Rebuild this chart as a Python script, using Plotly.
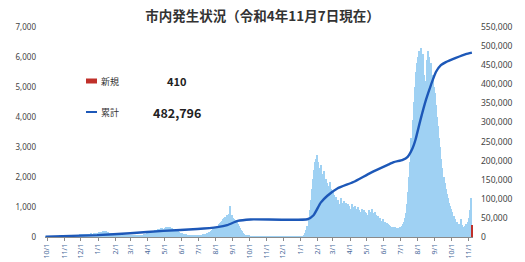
import pandas as pd
import plotly.graph_objects as go

# ---------------- data ----------------
title_text = "市内発生状況（令和4年11月7日現在）"

# daily new cases, aggregated per 2-day bin starting 2020-09-28
new_cases_2day = [
    15, 20, 18, 25, 20, 22, 30, 25, 28, 20, 25, 30, 28, 35, 30, 32,
    35, 40, 38, 45, 50, 48, 55, 60, 58, 65, 70, 68, 75, 80, 78, 85,
    90, 85, 95, 100, 92, 105, 110, 100, 115, 120, 110, 125, 130, 120, 140, 150,
    160, 180, 170, 200, 190, 210, 195, 180, 170, 150, 140, 120, 110, 95, 85,
    80, 70, 65, 60, 55, 50, 45, 48, 42, 40, 45, 38, 42, 40,
    45, 42, 50, 48, 55, 52, 60, 65, 70, 75, 80, 90, 100, 110, 120,
    130, 150, 160, 180, 190, 210, 220, 240, 250, 260, 280, 270, 290, 300, 280, 310,
    320, 330, 310, 340, 320, 300, 290, 270, 250, 230, 210, 190, 170, 150, 140,
    120, 110, 100, 90, 80, 70, 65, 60, 55, 50, 48, 45, 50, 55, 60,
    65, 70, 75, 80, 90, 100, 110, 120, 140, 160, 180, 200, 230, 260, 290,
    320, 350, 380, 420, 460, 500, 540, 600, 640, 680, 720, 650, 760, 1050, 700, 720,
    650, 600, 560, 500, 430, 360, 300, 240, 190, 150, 110, 80, 60, 45, 35,
    28, 22, 18, 15, 12, 10, 9, 8, 7, 6, 6, 5, 5, 4, 4, 3,
    3, 3, 2, 2, 2, 3, 2, 2, 3, 2, 2, 2, 3, 2, 2,
    2, 2, 3, 2, 2, 3, 3, 2, 3, 3, 4, 4, 5, 5, 6,
    8, 15, 30, 60, 120, 220, 380, 600, 900, 1250, 1600, 1950, 2250, 2500, 2600, 2750,
    2500, 2300, 2400, 2100, 2000, 2200, 1900, 1950, 1800, 1700, 1850, 1600, 1500, 1550,
    1400, 1300, 1350, 1200, 1250, 1100, 1300, 1150, 1100, 1200, 1050, 1150, 1000, 1100, 1050,
    950, 1100, 1000, 900, 1050, 950, 850, 1000, 900, 850, 950, 800, 900, 850, 800,
    750, 650, 900, 850, 950, 800, 700, 850, 750, 650, 700, 600, 650, 550, 600, 500,
    500, 450, 480, 420, 400, 380, 350, 330, 300, 320, 280, 300, 260, 300, 320,
    380, 420, 500, 650, 800, 1100, 1500, 2000, 2500, 3300, 3900, 4500, 5000, 5500, 5800,
    6000, 6200, 5800, 6300, 6100, 5400, 4800, 5200, 5900, 6200, 6000, 5600, 5800, 5400, 5000, 4800,
    4400, 4000, 3700, 3300, 3000, 2600, 2300, 2000, 1800, 1600, 1450, 1300, 1150, 1050, 950,
    850, 700, 600, 450, 500, 380, 420, 350, 600, 400, 330, 380, 450, 350, 500,
    650, 900, 1300,
]
bin_start = "2020-09-28"

latest_date = "2022-11-07"
latest_new = 410

cum_dates = [
    "2020-09-28", "2020-12-30", "2021-02-28", "2021-04-29", "2021-06-29",
    "2021-08-04", "2021-08-22", "2021-09-10", "2021-10-03", "2022-01-14",
    "2022-01-25", "2022-02-07", "2022-02-19", "2022-03-09", "2022-04-07",
    "2022-05-08", "2022-06-08", "2022-06-19", "2022-07-05", "2022-07-14",
    "2022-07-23", "2022-07-28", "2022-08-06", "2022-08-16", "2022-08-25",
    "2022-09-03", "2022-09-12", "2022-09-21", "2022-10-09", "2022-10-27",
    "2022-11-07",
]
cum_values = [
    1000, 5000, 10000, 16000, 21000,
    26000, 31000, 42000, 46000, 46500,
    57000, 90000, 108000, 127000, 144000,
    168000, 189000, 196000, 202000, 210000,
    233000, 254000, 306000, 359000, 398000,
    432000, 450000, 458000, 469000, 479000,
    482796,
]

tick_dates = pd.date_range("2020-10-01", "2022-11-01", freq="MS")
tick_labels = ["10/1", "11/1", "12/1", "1/1", "2/1", "3/1", "4/1", "5/1", "6/1",
               "7/1", "8/1", "9/1", "10/1", "11/1", "12/1", "1/1", "2/1", "3/1",
               "4/1", "5/1", "6/1", "7/1", "8/1", "9/1", "10/1", "11/1"]

left_ticks = list(range(0, 7001, 1000))
right_ticks = list(range(0, 550001, 50000))

# ---------------- figure ----------------
DAY = 86400000
bin_dates = pd.date_range(bin_start, periods=len(new_cases_2day), freq="2D")
JP = "Noto Sans CJK JP"
BLUE_LIGHT = "#9fd1f3"
BLUE_LINE = "#1d58b8"
RED = "#c0302a"

fig = go.Figure()
fig.add_trace(go.Bar(
    x=bin_dates, y=new_cases_2day, width=2 * DAY, offset=0,
    marker=dict(color=BLUE_LIGHT, line=dict(width=0)),
    showlegend=False, yaxis="y"))
fig.add_trace(go.Bar(
    x=[latest_date], y=[latest_new], width=4 * DAY, offset=-1 * DAY,
    marker=dict(color=RED, line=dict(width=0)),
    showlegend=False, yaxis="y"))
fig.add_trace(go.Scatter(
    x=cum_dates, y=cum_values, mode="lines",
    line=dict(color=BLUE_LINE, width=2.4, shape="spline", smoothing=0.5),
    showlegend=False, yaxis="y2"))

# plot area in pixels: x 45..473, y 27..237
L, R, T, B = 45, 473, 27, 237
W, H = 525, 262
def px(x):
    return (x - L) / (R - L)
def py(y):
    return (B - y) / (B - T)

shapes = [
    dict(type="rect", xref="paper", yref="paper",
         x0=px(86), x1=px(97), y0=py(83.5), y1=py(78.5),
         fillcolor=RED, line=dict(width=0)),
    dict(type="line", xref="paper", yref="paper",
         x0=px(86), x1=px(97), y0=py(112), y1=py(112),
         line=dict(color=BLUE_LINE, width=2)),
]
annotations = [
    dict(text="新規", x=px(99), y=py(81), xref="paper", yref="paper",
         xanchor="left", yanchor="middle", showarrow=False,
         font=dict(family=JP, size=9, color="#333")),
    dict(text="<b>%d</b>" % latest_new, x=px(176), y=py(81), xref="paper", yref="paper",
         xanchor="center", yanchor="middle", showarrow=False,
         font=dict(family=JP, size=11, color="#222")),
    dict(text="累計", x=px(99), y=py(112), xref="paper", yref="paper",
         xanchor="left", yanchor="middle", showarrow=False,
         font=dict(family=JP, size=9, color="#333")),
    dict(text="<b>{:,}</b>".format(cum_values[-1]), x=px(177), y=py(112), xref="paper", yref="paper",
         xanchor="center", yanchor="middle", showarrow=False,
         font=dict(family=JP, size=12.5, color="#222")),
]

fig.update_layout(
    width=W, height=H, autosize=False,
    margin=dict(l=L, r=W - R, t=T, b=H - B, pad=0, autoexpand=False),
    paper_bgcolor="white", plot_bgcolor="white",
    bargap=0,
    barmode="overlay",
    title=dict(text="<b>" + title_text + "</b>", x=0.5, xanchor="center",
               y=1 - 16 / H, yanchor="middle", yref="container",
               font=dict(family=JP, size=13.5, color="#333")),
    xaxis=dict(type="date", range=["2020-09-27", "2022-11-09"],
               tickvals=tick_dates, ticktext=tick_labels, tickangle=-90,
               tickfont=dict(family="Noto Sans", size=7, color="#4a6a9a"),
               showline=True, linecolor="#8a8a8a", linewidth=1,
               ticks="outside", ticklen=3, tickcolor="#8a8a8a",
               showgrid=False, zeroline=False, automargin=False),
    yaxis=dict(range=[0, 7000], tickvals=left_ticks, tickformat=",d",
               tickfont=dict(family="Noto Sans", size=8, color="#444"),
               showgrid=False, zeroline=False, showline=False, ticks="",
               ticklabelstandoff=8, automargin=False),
    yaxis2=dict(range=[0, 550000], tickvals=right_ticks, tickformat=",d",
                overlaying="y", side="right",
                tickfont=dict(family="Noto Sans", size=8.5, color="#444"),
                showgrid=False, zeroline=False, showline=False, ticks="",
                ticklabelstandoff=7, automargin=False),
    shapes=shapes,
    annotations=annotations,
)

fig.write_html("out.html", config={"displayModeBar": False},
               post_script="document.body.style.margin='0';document.body.style.padding='0';")
